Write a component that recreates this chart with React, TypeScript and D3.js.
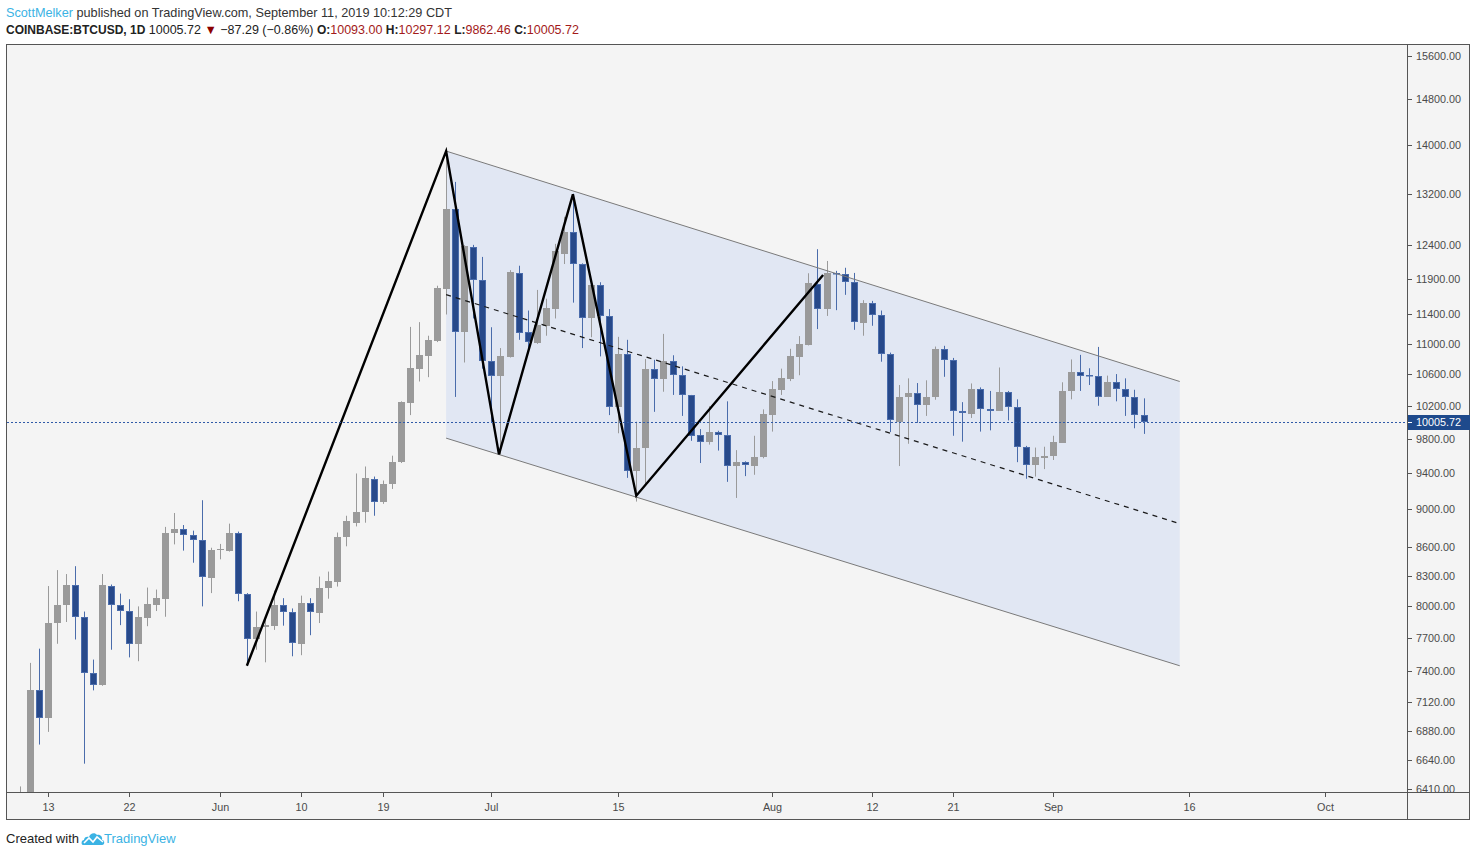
import * as d3 from "d3";
import { useEffect } from "react";

// daily candles, [open, high, low, close]
const mayStart = "2019-05-10";
const mayCandles = [
  [6150, 6430, 6110, 6350],
  [6350, 7470, 6330, 7230],
  [7230, 7600, 6765, 6990],
  [6990, 8200, 6870, 7840],
  [7840, 8360, 7645, 8010],
  [8010, 8320, 7850, 8210],
  [8210, 8400, 7685, 7895],
  [7895, 7950, 6610, 7375],
  [7375, 7500, 7225, 7270],
  [7270, 8320, 7265, 8210],
  [8205, 8215, 7590, 8010],
  [8010, 8125, 7820, 7960],
  [7960, 8070, 7520, 7645],
  [7645, 8000, 7485, 7895],
  [7890, 8185, 7810, 8020],
  [8015, 8165, 7955, 8080],
  [8075, 8810, 7900, 8750],
  [8740, 8960, 8625, 8790],
  [8790, 8830, 8560, 8725],
  [8725, 8770, 8435, 8675],
  [8675, 9100, 8000, 8290],
  [8285, 8590, 8130, 8570],
];
const junStart = "2019-06-01";
const junCandles = [
  [8565, 8630, 8470, 8575],
  [8560, 8845, 8550, 8750],
  [8750, 8760, 8050, 8125],
  [8125, 8130, 7445, 7690],
  [7690, 7950, 7590, 7805],
  [7800, 7900, 7475, 7820],
  [7815, 8155, 7775, 8015],
  [8015, 8080, 7815, 7945],
  [7945, 7980, 7530, 7650],
  [7645, 8105, 7540, 8035],
  [8035, 8080, 7725, 7945],
  [7940, 8295, 7840, 8185],
  [8180, 8345, 8075, 8250],
  [8245, 8750, 8195, 8705],
  [8700, 8930, 8605, 8870],
  [8855, 9400, 8815, 8975],
  [8970, 9480, 8855, 9345],
  [9340, 9365, 8930, 9080],
  [9080, 9320, 9060, 9285],
  [9280, 9605, 9225, 9535],
  [9530, 10260, 9520, 10250],
  [10245, 11230, 10090, 10680],
  [10670, 11295, 10510, 10855],
  [10845, 11110, 10565, 11055],
  [11035, 11805, 11025, 11770],
  [11760, 13900, 11400, 12955],
  [12955, 13390, 10315, 11165],
  [11165, 12400, 10755, 12385],
  [12380, 12405, 11345, 11885],
  [11885, 12225, 10675, 10770],
];
const julStart = "2019-07-01";
const julCandles = [
  [10770, 11225, 10000, 10585],
  [10585, 10945, 9620, 10840],
  [10830, 12030, 10820, 12005],
  [11985, 12095, 11055, 11145],
  [11160, 11455, 10895, 11020],
  [11010, 11745, 11000, 11255],
  [11245, 11620, 11110, 11485],
  [11480, 12420, 11345, 12310],
  [12275, 12835, 12120, 12605],
  [12595, 13200, 11565, 12115],
  [12115, 12130, 10945, 11355],
  [11355, 11850, 11090, 11810],
  [11810, 11855, 10835, 11385],
  [11385, 11475, 10090, 10195],
  [10190, 11095, 9870, 10865],
  [10865, 11055, 9350, 9430],
  [9430, 10010, 9085, 9695],
  [9690, 10800, 9260, 10665],
  [10665, 10790, 10130, 10545],
  [10540, 11135, 10380, 10775],
  [10775, 10850, 10340, 10590],
  [10595, 10705, 10080, 10335],
  [10335, 10340, 9780, 9840],
  [9845, 9920, 9520, 9770],
  [9770, 10200, 9735, 9890],
  [9885, 9900, 9665, 9845],
  [9845, 10260, 9305, 9485],
  [9480, 9670, 9125, 9535],
  [9535, 9540, 9370, 9500],
  [9490, 9840, 9385, 9595],
  [9590, 10160, 9575, 10100],
];
const augStart = "2019-08-01";
const augCandles = [
  [10095, 10515, 9890, 10415],
  [10405, 10675, 10340, 10550],
  [10540, 10935, 10515, 10835],
  [10830, 11105, 10590, 11000],
  [10985, 11985, 10980, 11845],
  [11830, 12340, 11200, 11480],
  [11470, 12165, 11380, 11990],
  [11990, 12020, 11460, 11970],
  [11975, 12065, 11675, 11865],
  [11865, 11990, 11190, 11290],
  [11285, 11600, 11110, 11555],
  [11555, 11590, 11245, 11390],
  [11395, 11455, 10765, 10865],
  [10865, 10885, 9885, 10035],
  [10000, 10465, 9485, 10315],
  [10315, 10550, 9745, 10365],
  [10360, 10490, 9995, 10215],
  [10215, 10525, 10080, 10320],
  [10315, 10965, 10280, 10935],
  [10930, 10975, 10570, 10785],
  [10785, 10815, 9840, 10135],
  [10145, 10250, 9770, 10110],
  [10105, 10485, 10055, 10420],
  [10415, 10435, 9890, 10160],
  [10160, 10390, 9905, 10140],
  [10140, 10690, 10140, 10375],
  [10375, 10390, 10025, 10185],
  [10185, 10285, 9530, 9710],
  [9710, 9720, 9340, 9495],
  [9495, 9700, 9365, 9585],
  [9580, 9710, 9450, 9605],
];
const sepStart = "2019-09-01";
const sepCandles = [
  [9600, 9840, 9555, 9765],
  [9760, 10500, 9755, 10395],
  [10390, 10795, 10285, 10635],
  [10635, 10855, 10390, 10585],
  [10590, 10680, 10465, 10580],
  [10585, 10960, 10205, 10320],
  [10320, 10585, 10315, 10500],
  [10500, 10605, 10260, 10410],
  [10410, 10550, 10080, 10320],
  [10320, 10405, 9930, 10093],
  [10093, 10297.12, 9862.46, 10005.72],
];

const priceTicks = [
  15600, 14800, 14000, 13200, 12400, 11900, 11400, 11000, 10600, 10200, 9800,
  9400, 9000, 8600, 8300, 8000, 7700, 7400, 7120, 6880, 6640, 6410,
];
const timeTicks = [
  "2019-05-13", "2019-05-22", "2019-06-01", "2019-06-10", "2019-06-19",
  "2019-07-01", "2019-07-15", "2019-08-01", "2019-08-12", "2019-08-21",
  "2019-09-01", "2019-09-16", "2019-10-01",
];
const timeLabels = ["13", "22", "Jun", "10", "19", "Jul", "15", "Aug", "12", "21", "Sep", "16", "Oct"];

// drawings: [time, price]
const channelTop = [["2019-06-26", 13900], ["2019-09-15", 10510]];
const channelBottom = [["2019-06-26", 9812], ["2019-09-15", 7444]];
const zigzag = [
  ["2019-06-04", 7444],
  ["2019-06-26", 13900],
  ["2019-07-01T20:00", 9620],
  ["2019-07-10", 13190],
  ["2019-07-17", 9150],
  ["2019-08-06T15:00", 11960],
];
const lastPrice = 10005.72;

const GRAY = "#9a9a9a";
const BLUE = "#27498a";
const BLUE_EDGE = "#4a6cab";
const TEXT = "#4a4a4a";
const FONT = "'Liberation Sans', Arial, sans-serif";

const plot = { left: 7, right: 1407, top: 45, bottom: 792 };

export default function App() {
  useEffect(() => {
    document.body.style.margin = "0";
  }, []);

  const parse = (s: string) => d3.isoParse(s.length > 10 ? s + ":00Z" : s + "T00:00:00Z") as Date;

  const candles = [
    [mayStart, mayCandles],
    [junStart, junCandles],
    [julStart, julCandles],
    [augStart, augCandles],
    [sepStart, sepCandles],
  ].flatMap(([start, rows]: any) =>
    rows.map((r: number[], i: number) => ({
      date: d3.utcDay.offset(parse(start), i),
      o: r[0],
      h: r[1],
      l: r[2],
      c: r[3],
    }))
  );

  const x = d3
    .scaleUtc()
    .domain([parse("2019-05-11"), parse("2019-09-11")])
    .range([29.5, 1143.5]);
  const y = d3.scaleLog().domain([6410, 15600]).range([789, 56]);

  const pt = (p: any) => [x(parse(p[0])), y(p[1])] as [number, number];
  const tl = pt(channelTop[0]);
  const tr = pt(channelTop[1]);
  const bl = pt(channelBottom[0]);
  const br = pt(channelBottom[1]);
  const midL = [(tl[0] + bl[0]) / 2, (tl[1] + bl[1]) / 2];
  const midR = [(tr[0] + br[0]) / 2, (tr[1] + br[1]) / 2];
  const line = d3.line();

  const lastY = Math.round(y(lastPrice)) + 0.5;

  return (
    <svg width={1476} height={856} style={{ display: "block", background: "#fff" }} fontFamily={FONT}>
      <defs>
        <clipPath id="plotClip">
          <rect x={plot.left} y={plot.top} width={plot.right - plot.left} height={plot.bottom - plot.top} />
        </clipPath>
        <clipPath id="axisClip">
          <rect x={plot.right + 1} y={plot.top} width={62} height={plot.bottom - plot.top} />
        </clipPath>
      </defs>

      {/* header */}
      <text x={6} y={17} fontSize={12.7} fill="#333">
        <tspan fill="#3bb3e4">ScottMelker</tspan>
        <tspan> published on TradingView.com, September 11, 2019 10:12:29 CDT</tspan>
      </text>
      <text x={6} y={34} fontSize={12.5} fill="#222">
        <tspan fontWeight="bold" fontSize={12}>COINBASE:BTCUSD, 1D</tspan>
        <tspan>{" 10005.72 "}</tspan>
        <tspan fill="#8b0000">▼</tspan>
        <tspan>{" −87.29 (−0.86%) "}</tspan>
        <tspan fontWeight="bold" fontSize={12}>O:</tspan>
        <tspan fill="#a31a1a">10093.00 </tspan>
        <tspan fontWeight="bold" fontSize={12}>H:</tspan>
        <tspan fill="#a31a1a">10297.12 </tspan>
        <tspan fontWeight="bold" fontSize={12}>L:</tspan>
        <tspan fill="#a31a1a">9862.46 </tspan>
        <tspan fontWeight="bold" fontSize={12}>C:</tspan>
        <tspan fill="#a31a1a">10005.72</tspan>
      </text>

      {/* chart frame */}
      <rect x={6.5} y={44.5} width={1463} height={775} fill="#f4f4f4" stroke="#555" />

      <g clipPath="url(#plotClip)">
        {/* channel fill */}
        <path d={line([tl, tr, br, bl]) + "Z"} fill="#e1e7f3" />

        {/* candles */}
        {candles.map((d, i) => {
          const up = d.c >= d.o;
          const cx = Math.round(x(d.date));
          const yTop = Math.round(y(Math.max(d.o, d.c)));
          const yBot = Math.round(y(Math.min(d.o, d.c)));
          const hgt = Math.max(1, yBot - yTop);
          return (
            <g key={i}>
              <line
                x1={cx + 0.5}
                x2={cx + 0.5}
                y1={y(d.h)}
                y2={y(d.l)}
                stroke={up ? GRAY : BLUE_EDGE}
                strokeWidth={1}
              />
              {up ? (
                <rect x={cx - 3} y={yTop} width={7} height={hgt} fill={GRAY} />
              ) : (
                <rect
                  x={cx - 2.5}
                  y={yTop + 0.5}
                  width={6}
                  height={Math.max(0.5, hgt - 1)}
                  fill={BLUE}
                  stroke={BLUE_EDGE}
                  strokeWidth={1}
                />
              )}
            </g>
          );
        })}

        {/* channel borders */}
        <path d={line([tl, tr])!} stroke="#7a7a7a" strokeWidth={1} fill="none" />
        <path d={line([bl, br])!} stroke="#7a7a7a" strokeWidth={1} fill="none" />
        <path
          d={line([midL, midR] as [number, number][])!}
          stroke="#1a1a1a"
          strokeWidth={1.2}
          strokeDasharray="5 5"
          fill="none"
        />

        {/* zigzag */}
        <path
          d={line(zigzag.map(pt))!}
          stroke="#000"
          strokeWidth={2.4}
          fill="none"
          strokeLinejoin="miter"
        />

        {/* last price line */}
        <line
          x1={plot.left}
          x2={plot.right}
          y1={lastY}
          y2={lastY}
          stroke="#2f5aa8"
          strokeWidth={1}
          strokeDasharray="2 2"
        />
      </g>

      {/* separators */}
      <line x1={1407.5} x2={1407.5} y1={44.5} y2={819.5} stroke="#555" />
      <line x1={6.5} x2={1469.5} y1={792.5} y2={792.5} stroke="#555" />

      {/* price axis */}
      <g clipPath="url(#axisClip)">
        {priceTicks.map((p) => {
          const ty = Math.round(y(p)) + 0.5;
          return (
            <g key={p}>
              <line x1={1408} x2={1412} y1={ty} y2={ty} stroke="#555" />
              <text x={1416} y={ty} dy="0.35em" fontSize={10.8} fill={TEXT}>
                {d3.format(".2f")(p)}
              </text>
            </g>
          );
        })}
        <rect x={1408} y={lastY - 7.5} width={62} height={15} fill="#1e4a8c" />
        <line x1={1408} x2={1412} y1={lastY} y2={lastY} stroke="#fff" />
        <text x={1416} y={lastY} dy="0.35em" fontSize={10.8} fill="#fff">
          {d3.format(".2f")(lastPrice)}
        </text>
      </g>

      {/* time axis */}
      {timeTicks.map((t, i) => {
        const tx = Math.round(x(parse(t))) + 0.5;
        return (
          <g key={t}>
            <line x1={tx} x2={tx} y1={793} y2={797} stroke="#555" />
            <text x={tx} y={811} fontSize={10.8} fill={TEXT} textAnchor="middle">
              {timeLabels[i]}
            </text>
          </g>
        );
      })}

      {/* footer */}
      <text x={6} y={843} fontSize={13} fill="#222">
        Created with
      </text>
      <g transform="translate(82,831)">
        <path
          d="M1,14 C-1,14 -1,9 2,9 C2,6 5,5 7,6 C8,2 13,1 15,4 C18,3 21,6 20,9 C23,9 23,14 20,14 Z"
          fill="#3bb3e4"
        />
        <polyline points="2,12 7,7 11,11 15,6 21,11" fill="none" stroke="#fff" strokeWidth={1.6} />
      </g>
      <text x={104} y={843} fontSize={13} fill="#3bb3e4">
        TradingView
      </text>
    </svg>
  );
}
